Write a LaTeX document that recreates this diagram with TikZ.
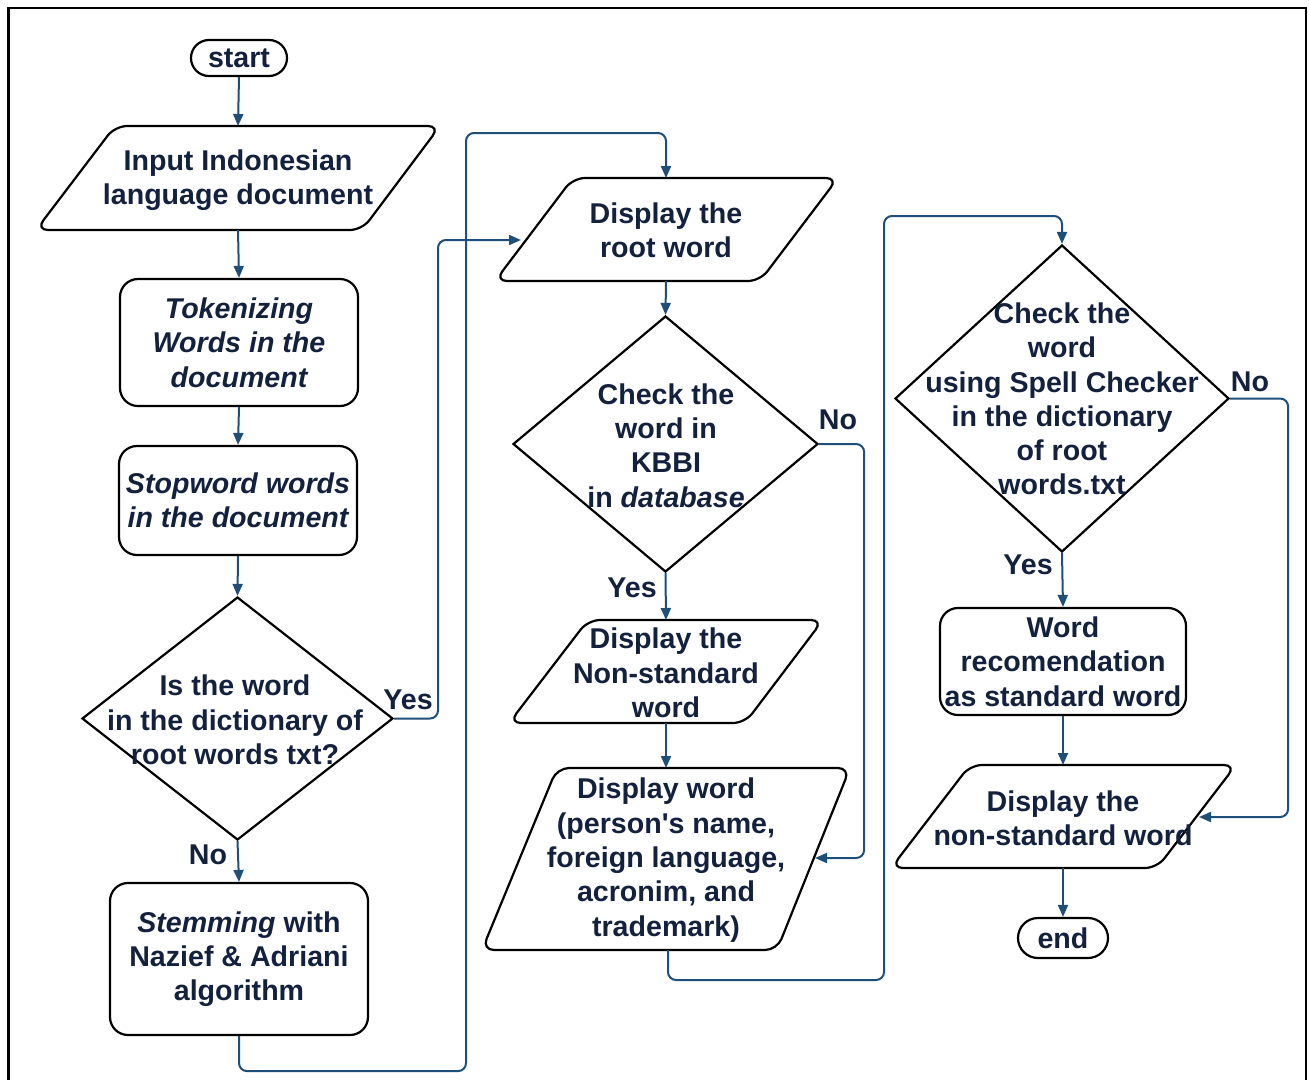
\documentclass[tikz,border=0pt]{standalone}
\usepackage{fontspec}
\setmainfont{Liberation Sans}
\usetikzlibrary{arrows.meta,shapes.geometric}
\definecolor{txtc}{HTML}{14213D}
\definecolor{linec}{HTML}{1F4E79}
\begin{document}
\begin{tikzpicture}[x=1pt,y=-1pt,
  shp/.style={draw=black,line width=2.2pt},
  proc/.style={shp,rounded corners=18pt,inner sep=0pt},
  term/.style={shp,inner sep=0pt},
  para/.style={shp,rounded corners=12pt},
  dec/.style={shp,diamond,inner sep=0pt},
  txt/.style={text=txtc,font=\bfseries\fontsize{28.6}{34.3}\selectfont,align=center,inner sep=0pt},
  itx/.style={txt,font=\bfseries\itshape\fontsize{28.6}{34.3}\selectfont},
  conn/.style={draw=linec,line width=2pt,rounded corners=8pt,-{Triangle[length=12pt,width=10pt]}}]
\useasboundingbox (0,0) rectangle (1309,1079);
% frame
\draw[line width=2.5pt] (8.5,1090) -- (8.5,8) -- (1306,8) -- (1306,1090);

% column 1
\node[term,txt,rounded corners=18pt,minimum width=96pt,minimum height=36pt] (start) at (239,58) {start};
\draw[para] (277,126) -- (440,126) -- (362,230) -- (36,230) -- (115,126) -- cycle;
\node[txt] (input) at (238,180) {Input Indonesian\\language document};
\coordinate (inT) at (238,126);
\coordinate (inB) at (238,230);
\node[proc,itx,minimum width=238pt,minimum height=127pt] (tok) at (239,342.5) {Tokenizing\\Words in the\\document};
\node[proc,itx,minimum width=238pt,minimum height=109pt] (stop) at (238,500.5) {Stopword words\\in the document};
\node[dec,minimum width=311pt,minimum height=243pt] (d1) at (237.5,718.5) {};
\node[txt] (d1t) at (235,720) {Is the word\\in the dictionary of\\root words txt?};
\node[proc,txt,minimum width=258pt,minimum height=152pt] (stem) at (239,959) {\textit{Stemming} with\\Nazief \& Adriani\\algorithm};

% column 2
\draw[para] (666,178) -- (838,178) -- (760,281) -- (495,281) -- (573,178) -- cycle;
\node[txt] (root) at (666,230) {Display the\\root word};
\coordinate (rpT) at (666,178);
\coordinate (rpB) at (666,281);
\coordinate (rpL) at (521,240);
\node[dec,minimum width=305pt,minimum height=256pt] (d2) at (665.5,444) {};
\node[txt] (d2t) at (666,445.5) {Check the\\word in\\KBBI\\in \textit{database}};
\draw[para] (700,620) -- (823,620) -- (745,723) -- (509,723) -- (588,620) -- cycle;
\node[txt] (nonstd) at (666,673) {Display the\\Non-standard\\word};
\coordinate (nsT) at (666,620);
\coordinate (nsB) at (666,723);
\draw[para] (700,768) -- (850,768) -- (777,950) -- (482,950) -- (557,768) -- cycle;
\node[txt] (dword) at (666,860) {Display word\\(person\textquotesingle s name,\\foreign language,\\acronim, and\\trademark)};
\coordinate (dwT) at (666,768);
\coordinate (dwB) at (668,950);
\coordinate (dwR) at (815,858);

% column 3
\node[dec,minimum width=334pt,minimum height=307pt] (d3) at (1062,398.5) {};
\node[txt] (d3t) at (1062,399) {Check the\\word\\using Spell Checker\\in the dictionary\\of root\\words.txt};
\node[proc,txt,minimum width=246pt,minimum height=107pt] (rec) at (1063,661.5) {Word\\recomendation\\as standard word};
\draw[para] (1100,765) -- (1236,765) -- (1157,868) -- (891,868) -- (970,765) -- cycle;
\node[txt] (ns2) at (1063,818) {Display the\\non-standard word};
\coordinate (ns2T) at (1063,765);
\coordinate (ns2B) at (1063,868);
\coordinate (ns2R) at (1199,817);
\node[term,txt,rounded corners=20pt,minimum width=90pt,minimum height=40pt] (end) at (1063,938) {end};

% connectors
\coordinate (c1) at (438,240);
\coordinate (c2) at (466,133);
\coordinate (c3) at (884,216);
\draw[conn] (start.south) -- (inT);
\draw[conn] (inB) -- (tok.north);
\draw[conn] (tok.south) -- (stop.north);
\draw[conn] (stop.south) -- (d1.north);
\draw[conn] (d1.east) -| (c1) -- (rpL);
\draw[conn] (d1.south) -- (stem.north);
\draw[conn] (stem.south) -- ++(0,35) -| (c2) -| (rpT);
\draw[conn] (rpB) -- (d2.north);
\draw[conn] (d2.east) -- ++(45,0) |- (dwR);
\draw[conn] (d2.south) -- (nsT);
\draw[conn] (nsB) -- (dwT);
\draw[conn] (dwB) -- ++(0,30) -| (c3) -| (d3.north);
\draw[conn] (d3.east) -- ++(58,0) |- (ns2R);
\draw[conn] (d3.south) -- (rec.north);
\draw[conn] (rec.south) -- (ns2T);
\draw[conn] (ns2B) -- (end.north);

% labels
\node[txt] (l1) at (408,700) {Yes};
\node[txt] (l2) at (208,855) {No};
\node[txt] (l3) at (838,420) {No};
\node[txt] (l4) at (632,588) {Yes};
\node[txt] (l5) at (1250,382) {No};
\node[txt] (l6) at (1028,565) {Yes};
\end{tikzpicture}
\end{document}
